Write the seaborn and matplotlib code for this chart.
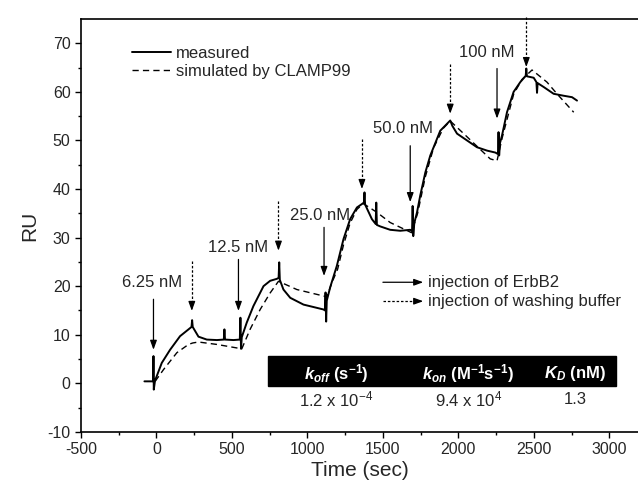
import numpy as np
import pandas as pd
import seaborn as sns
import matplotlib.pyplot as plt
from matplotlib.patches import Rectangle

# measured sensorgram (time in s, response in RU)
meas_t = [-80, -22, -20, -18, -10, -3, 35, 90, 156, 212, 232, 236, 240, 278, 333, 400,
          446, 450, 454, 510, 552, 556, 560, 565, 598, 642, 709, 753, 797, 809, 813, 817,
          841, 886, 974, 1040, 1106, 1116, 1120, 1124, 1128, 1151, 1195, 1239, 1283, 1328,
          1361, 1374, 1378, 1382, 1394, 1427, 1452, 1456, 1460, 1482, 1548, 1615, 1681,
          1693, 1697, 1701, 1708, 1726, 1747, 1781, 1814, 1858, 1880, 1924, 1946, 1960,
          1991, 2057, 2123, 2190, 2245, 2262, 2266, 2270, 2276, 2289, 2322, 2366, 2410,
          2446, 2450, 2454, 2499, 2517, 2521, 2525, 2565, 2631, 2697, 2753, 2786]
meas_ru = [0.4, 0.4, 5.6, -1.3, 0.5, 1.1, 4.2, 6.9, 9.7, 11.1, 11.6, 13.0, 11.6, 9.6, 9.0, 8.9,
           9.0, 11.1, 9.0, 8.9, 9.0, 13.5, 7.1, 9.5, 12.5, 15.9, 20.0, 21.1, 21.5, 21.7, 24.9, 21.3,
           19.3, 17.6, 16.2, 15.7, 15.2, 15.0, 18.7, 12.7, 17.0, 19.8, 24.2, 29.7, 33.8, 36.2,
           36.9, 37.2, 39.3, 36.8, 36.0, 33.8, 32.8, 37.2, 32.6, 32.3, 31.6, 31.4, 31.6,
           31.3, 36.5, 30.3, 33.0, 35.2, 38.6, 43.4, 46.9, 50.3, 52.0, 53.4, 54.1, 53.0,
           51.4, 50.0, 48.6, 47.9, 47.5, 47.2, 51.7, 46.9, 49.5, 51.0, 55.8, 60.0, 62.0,
           63.3, 64.8, 63.2, 62.9, 62.0, 59.8, 61.8, 61.0, 59.6, 59.2, 58.9, 58.2]

# simulated by CLAMP99
sim_t = [-9, 46, 135, 212, 240, 278, 400, 565, 620, 687, 753, 808, 930, 1063, 1129, 1162,
         1200, 1239, 1283, 1328, 1370, 1460, 1548, 1690, 1730, 1781, 1836, 1900, 1946, 2035,
         2211, 2256, 2290, 2366, 2420, 2488, 2587, 2653, 2764]
sim_ru = [0.4, 2.8, 6.3, 8.0, 8.3, 8.5, 8.0, 7.1, 11.1, 15.2, 18.6, 21.0, 19.3, 18.3, 17.8, 20.7,
          23.5, 28.5, 33.0, 35.8, 37.0, 35.2, 33.1, 31.0, 35.0, 42.5, 48.5, 52.5, 54.0, 51.4,
          46.2, 45.8, 50.5, 59.5, 62.5, 64.5, 62.0, 59.6, 55.8]

# injections of ErbB2: time, arrow top, arrow tip, label
inj_t = [-20, 543, 1110, 1681, 2256]
inj_top = [17.3, 25.5, 32.1, 48.9, 64.8]
inj_tip = [6.9, 14.9, 22.1, 37.3, 54.5]
inj_label = ["6.25 nM", "12.5 nM", "25.0 nM", "50.0 nM", "100 nM"]
inj_label_x = [-31, 542, 1084, 1635, 2189]
inj_label_y = [20.7, 28.0, 34.6, 52.4, 68.2]

# injections of washing buffer
wash_t = [234, 808, 1361, 1946, 2450]
wash_top = [25.2, 37.6, 50.3, 65.8, 75.5]
wash_tip = [14.9, 27.3, 40.0, 55.5, 65.1]

headers = [r"$\mathbfit{k}_{\mathbfit{off}}$ (s$^{\mathbf{-1}}$)",
           r"$\mathbfit{k}_{\mathbfit{on}}$ (M$^{\mathbf{-1}}$s$^{\mathbf{-1}}$)",
           r"$\mathbfit{K}_{\mathbfit{D}}$ (nM)"]
values = [r"1.2 x 10$^{-4}$", r"9.4 x 10$^{4}$", "1.3"]
col_x = [1190, 2066, 2775]

sns.set_style("ticks")
plt.rcParams['font.family'] = ['Liberation Sans', 'DejaVu Sans']
plt.rcParams['axes.unicode_minus'] = False
plt.rcParams['mathtext.fontset'] = 'custom'
plt.rcParams['mathtext.rm'] = 'Liberation Sans'
plt.rcParams['mathtext.it'] = 'Liberation Sans:italic'
plt.rcParams['mathtext.bf'] = 'Liberation Sans:bold'
plt.rcParams['mathtext.bfit'] = 'Liberation Sans:bold:italic'

FS = 12
fig = plt.figure(figsize=(6.38, 4.93), dpi=100)
ax = fig.add_axes([0.127, 0.124, 0.873, 0.8375])

meas_df = pd.DataFrame({"t": meas_t, "ru": meas_ru})
sim_df = pd.DataFrame({"t": sim_t, "ru": sim_ru})
sns.lineplot(data=meas_df, x="t", y="ru", sort=False, estimator=None, color="black",
             linewidth=1.4, label="measured", ax=ax)
sns.lineplot(data=sim_df, x="t", y="ru", sort=False, estimator=None, color="black",
             linewidth=1.0, dashes=False, label="simulated by CLAMP99", ax=ax)
ax.lines[1].set_dashes((4.5, 3))

head = "-|>,head_length=0.55,head_width=0.2"
for t, top, tip, lab, lx, ly in zip(inj_t, inj_top, inj_tip, inj_label, inj_label_x, inj_label_y):
    ax.annotate("", xy=(t, tip), xytext=(t, top),
                arrowprops=dict(arrowstyle=head, color="black", lw=0.9, shrinkA=0, shrinkB=0))
    ax.text(lx, ly, lab, ha="center", va="center", fontsize=FS)

for t, top, tip in zip(wash_t, wash_top, wash_tip):
    ax.plot([t, t], [top, tip + 1.5], color="black", lw=0.9, ls=(0, (2, 1.5)),
            clip_on=False)
    ax.annotate("", xy=(t, tip), xytext=(t, tip + 1.6),
                arrowprops=dict(arrowstyle=head, color="black", lw=0.9, shrinkA=0, shrinkB=0))

# arrow legend
ax.annotate("", xy=(1767, 20.8), xytext=(1500, 20.8),
            arrowprops=dict(arrowstyle=head, color="black", lw=0.9, shrinkA=0, shrinkB=0))
ax.text(1800, 20.8, "injection of ErbB2", va="center", fontsize=FS)
ax.plot([1500, 1745], [16.9, 16.9], color="black", lw=0.9, ls=(0, (2, 1.5)))
ax.annotate("", xy=(1767, 16.9), xytext=(1740, 16.9),
            arrowprops=dict(arrowstyle=head, color="black", lw=0.9, shrinkA=0, shrinkB=0))
ax.text(1800, 16.9, "injection of washing buffer", va="center", fontsize=FS)

# kinetic constants table
ax.add_patch(Rectangle((742, -0.5), 2300, 6.1, color="black", zorder=3))
for cx, h, v in zip(col_x, headers, values):
    ax.text(cx, 2.0, h, ha="center", va="center", color="white", fontsize=FS,
            fontweight="bold", zorder=4)
    ax.text(cx, -3.3, v, ha="center", va="center", fontsize=FS)

ax.set_xlim(-500, 3190)
ax.set_ylim(-10, 75)
ax.set_xticks(range(-500, 3001, 500))
ax.set_xticks(range(-250, 3001, 500), minor=True)
ax.set_yticks(range(-10, 71, 10))
ax.set_yticks(range(-5, 71, 10), minor=True)
ax.tick_params(axis="both", which="major", direction="out", length=4, width=1,
               labelsize=11.5, color="black")
ax.tick_params(axis="both", which="minor", direction="out", length=2.5, width=1,
               color="black")
ax.spines["right"].set_visible(False)
for s in ["left", "bottom", "top"]:
    ax.spines[s].set_linewidth(1.2)
    ax.spines[s].set_color("black")
ax.set_xlabel("Time (sec)", fontsize=15, labelpad=3)
ax.set_ylabel("RU", fontsize=15, labelpad=6)

ax.legend(loc="upper left", bbox_to_anchor=(0.077, 0.955), frameon=False, fontsize=FS,
          handlelength=2.35, handletextpad=0.25, borderpad=0, labelspacing=0.2)

plt.savefig("out.png", dpi=100)
